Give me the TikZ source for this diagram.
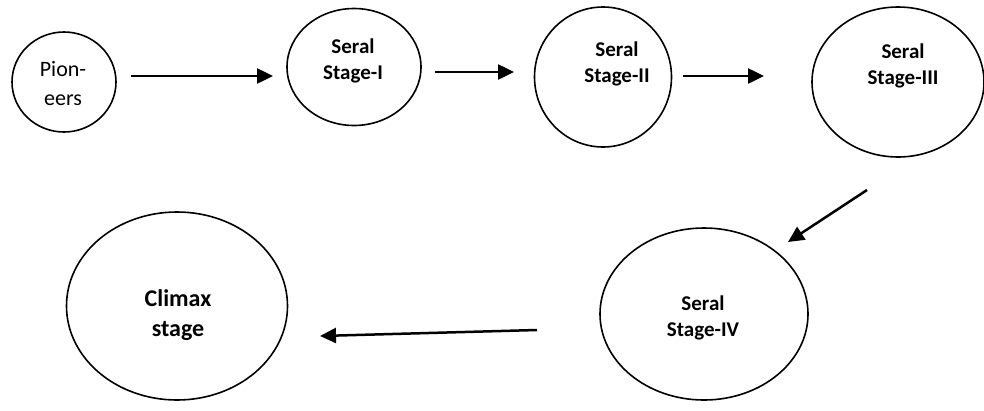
\documentclass[tikz,border=0pt]{standalone}
\usepackage{fontspec}
\setmainfont{Carlito}
\usetikzlibrary{arrows.meta,shapes.geometric}
\begin{document}
\begin{tikzpicture}[x=1pt,y=-1pt,
  stagebox/.style={draw,ellipse,line width=1.6pt,inner sep=0pt},
  lbl/.style={align=center,font=\bfseries\fontsize{21}{26}\selectfont},
  arr/.style={line width=2.5pt,-{Triangle[length=16pt,width=15pt]}}]
\useasboundingbox (0,0) rectangle (984,410);
% ellipses
\node[stagebox,minimum width=104pt,minimum height=100pt] (pio) at (64,82) {};
\node[stagebox,minimum width=134pt,minimum height=117pt] (s1) at (354,67) {};
\node[stagebox,minimum width=137pt,minimum height=140pt] (s2) at (603,77) {};
\node[stagebox,minimum width=172pt,minimum height=150pt] (s3) at (898,82) {};
\node[stagebox,minimum width=208pt,minimum height=172pt] (s4) at (704,314) {};
\node[stagebox,minimum width=221pt,minimum height=188pt] (cl) at (177,306) {};
% labels
\node[align=center,font=\fontsize{22}{29}\selectfont] (tpio) at (63,84) {Pion-\\eers};
\node[lbl] (t1) at (353,61) {Seral\\Stage-I};
\node[lbl] (t2) at (617,64) {Seral\\Stage-II};
\node[lbl] (t3) at (903,66) {Seral\\Stage-III};
\node[lbl] (t4) at (703,318) {Seral\\Stage-IV};
\node[lbl,font=\bfseries\fontsize{24}{30}\selectfont] (tc) at (178,315) {Climax\\stage};
% arrow end points
\coordinate (a1s) at (131,76); \coordinate (a1e) at (273,76);
\coordinate (a2s) at (435,72); \coordinate (a2e) at (514,72);
\coordinate (a3s) at (683,76); \coordinate (a3e) at (764,76);
\coordinate (a4s) at (867,190); \coordinate (a4e) at (788,242);
\coordinate (a5s) at (537,330); \coordinate (a5e) at (320,336);
\draw[arr] (a1s) -- (a1e);
\draw[arr] (a2s) -- (a2e);
\draw[arr] (a3s) -- (a3e);
\draw[arr] (a4s) -- (a4e);
\draw[arr] (a5s) -- (a5e);
\end{tikzpicture}
\end{document}
